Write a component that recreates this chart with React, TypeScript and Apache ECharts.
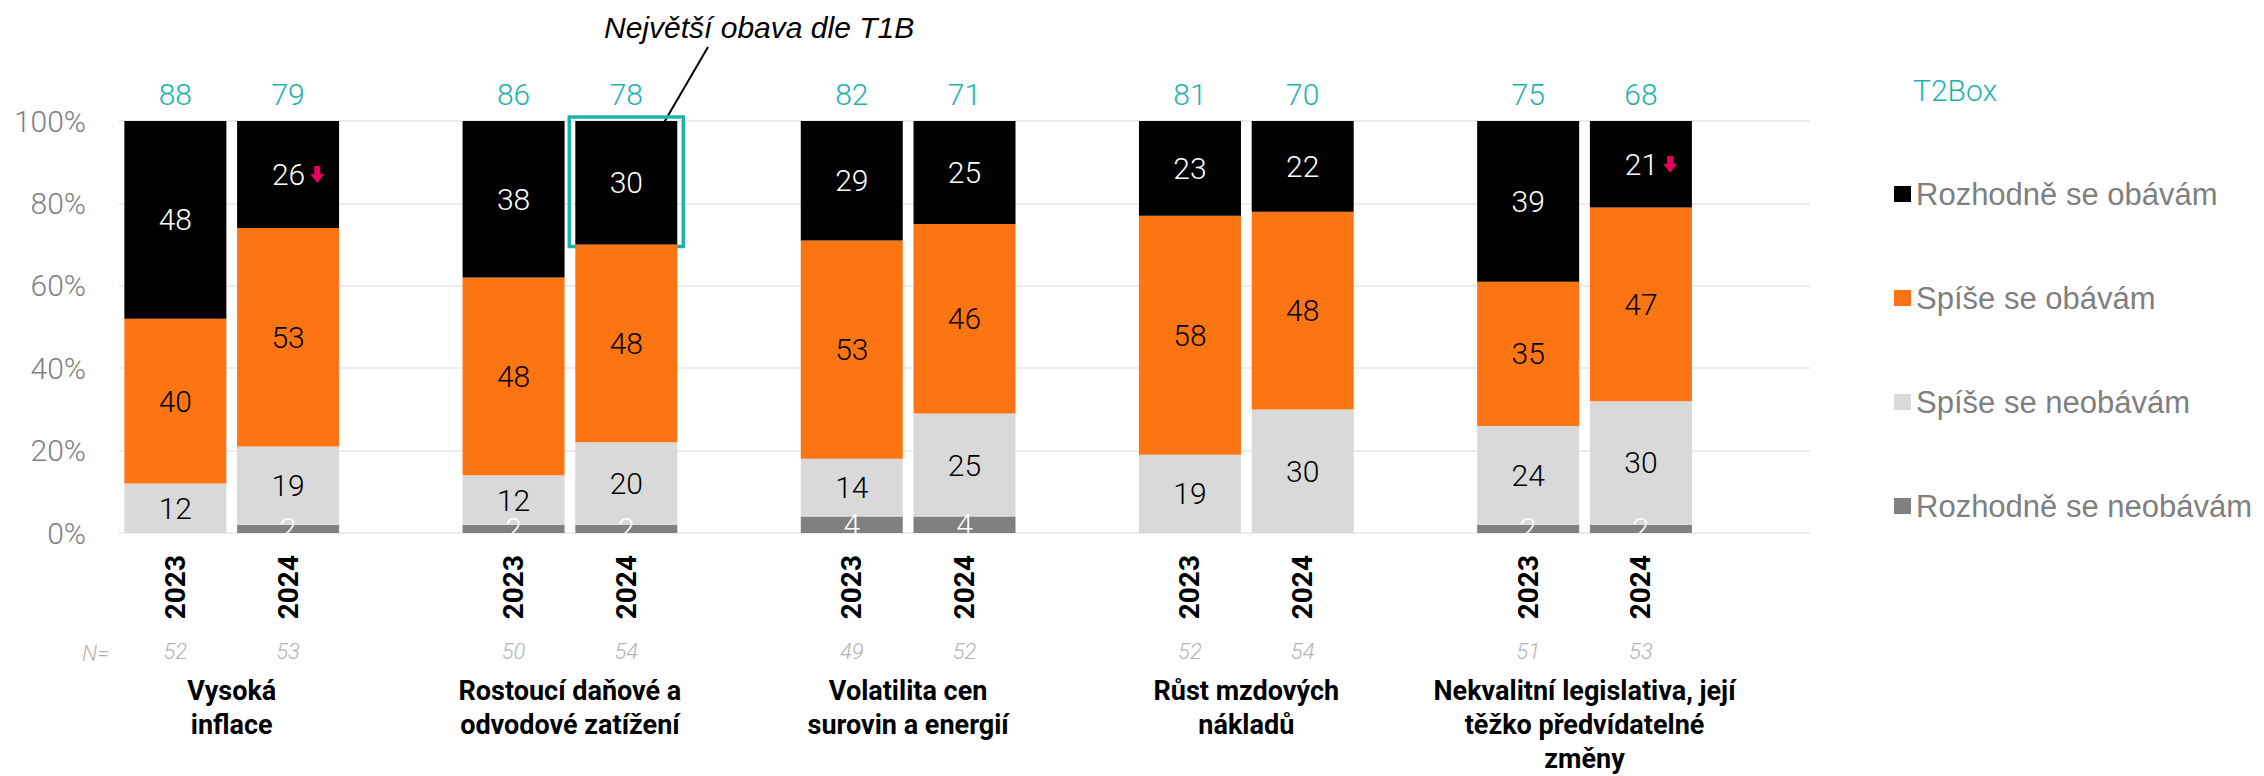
import React, { useEffect, useRef } from "react";
import * as echarts from "echarts";

// ---------- data ----------
const groupNames = [
  "Vysoká\ninflace",
  "Rostoucí daňové a\nodvodové zatížení",
  "Volatilita cen\nsurovin a energií",
  "Růst mzdových\nnákladů",
  "Nekvalitní legislativa, její\ntěžko předvídatelné\nzměny",
];
const yearLabels = ["2023", "2024"];
const seriesNames = [
  "Rozhodně se obávám",
  "Spíše se obávám",
  "Spíše se neobávám",
  "Rozhodně se neobávám",
];
const strongConcern2023 = [48, 38, 29, 23, 39];
const strongConcern2024 = [26, 30, 25, 22, 21];
const ratherConcern2023 = [40, 48, 53, 58, 35];
const ratherConcern2024 = [53, 48, 46, 48, 47];
const ratherNoConcern2023 = [12, 12, 14, 19, 24];
const ratherNoConcern2024 = [19, 20, 25, 30, 30];
const noConcern2023 = [0, 2, 4, 0, 2];
const noConcern2024 = [2, 2, 4, 0, 2];
const t2box2023 = [88, 86, 82, 81, 75];
const t2box2024 = [79, 78, 71, 70, 68];
const n2023 = [52, 50, 49, 52, 51];
const n2024 = [53, 54, 52, 54, 53];
const drop2024 = [true, false, false, false, true];
const highlightGroup = 1;
const highlightYear = 1;
const annotationText = "Největší obava dle T1B";
const legendTitle = "T2Box";

// ---------- styles ----------
const TEAL = "#1fb2ac";
const COLORS = ["#000000", "#fd7512", "#d9d9d9", "#808080"];
const LABEL_COLORS = ["#ffffff", "#000000", "#000000", "#ffffff"];
const NUM_FONT = "Roboto";

const arrowSvg =
  "<svg xmlns='http://www.w3.org/2000/svg' width='14' height='17' viewBox='0 0 14 17'><path d='M4 0h6v8h4l-7 9l-7-9h4z' fill='#e8005c'/></svg>";
const arrowUrl = "data:image/svg+xml;charset=utf-8," + encodeURIComponent(arrowSvg);

function toSlots<T>(a: T[], b: T[], empty: any) {
  return groupNames.flatMap((_, i) => [a[i], b[i], empty]);
}

export default function App() {
  const ref = useRef<HTMLDivElement>(null);

  useEffect(() => {
    if (!ref.current) return;
    const chart = echarts.init(ref.current, null, { renderer: "svg" });

    const slotCats = groupNames.flatMap(() => [...yearLabels, ""]);
    const groupAxis = Array.from({ length: groupNames.length * 6 + 1 }, (_, k) =>
      k % 6 === 2 ? groupNames[(k - 2) / 6] : ""
    );
    const nAxis = toSlots(n2023.map(String), n2024.map(String), "");
    const t2bAxis = toSlots(t2box2023.map(String), t2box2024.map(String), "");
    const dropSlots = toSlots(drop2024.map(() => false), drop2024, false);

    const seriesData = [
      toSlots(strongConcern2023, strongConcern2024, null),
      toSlots(ratherConcern2023, ratherConcern2024, null),
      toSlots(ratherNoConcern2023, ratherNoConcern2024, null),
      toSlots(noConcern2023, noConcern2024, null),
    ];

    const labelFont = { fontFamily: NUM_FONT, fontSize: 30, fontWeight: 300 };

    const series: any[] = [];
    for (let s = 3; s >= 0; s--) {
      const data = seriesData[s].map((v, i) => {
        if (v === null) return null;
        if (s === 0 && dropSlots[i]) {
          return { value: v, label: { offset: [10, 0] } };
        }
        return v;
      });
      series.push({
        name: seriesNames[s],
        type: "bar",
        stack: "total",
        barWidth: 102,
        data,
        itemStyle: { color: COLORS[s] },
        label: {
          show: true,
          position: "inside",
          color: LABEL_COLORS[s],
          ...labelFont,
          formatter: (p: any) => {
            const v = p.value;
            if (v === null || v === undefined || v === 0) return "";
            if (s === 0 && dropSlots[p.dataIndex]) return `{num|${v}}{gap|}{arr|}`;
            return String(v);
          },
          rich: {
            num: { color: LABEL_COLORS[s], ...labelFont },
            gap: { width: 5 },
            arr: {
              width: 14,
              height: 17,
              verticalAlign: "middle",
              backgroundColor: { image: arrowUrl },
            },
          },
        },
      });
    }

    const option: any = {
      animation: false,
      backgroundColor: "#ffffff",
      grid: {
        left: 119,
        right: 454,
        top: 121,
        bottom: 243,
        containLabel: false,
        outerBoundsMode: "none",
      },
      legend: {
        data: seriesNames,
        orient: "vertical",
        left: 1889,
        top: 172,
        itemWidth: 17,
        itemHeight: 16,
        itemGap: 70,
        icon: "rect",
        selectedMode: false,
        textStyle: {
          fontFamily: "Liberation Sans",
          fontSize: 31,
          color: "#7f7f7f",
          lineHeight: 34,
        },
      },
      xAxis: [
        {
          type: "category",
          data: slotCats,
          position: "bottom",
          axisLine: { show: false },
          axisTick: { show: false },
          axisLabel: {
            interval: 0,
            rotate: 90,
            margin: 22,
            fontFamily: NUM_FONT,
            fontWeight: "bold",
            fontSize: 28,
            color: "#000000",
          },
        },
        {
          type: "category",
          data: groupAxis,
          position: "bottom",
          boundaryGap: false,
          axisLine: { show: false },
          axisTick: { show: false },
          axisLabel: {
            interval: 0,
            margin: 141,
            fontFamily: NUM_FONT,
            fontWeight: "bold",
            fontSize: 27,
            lineHeight: 34,
            color: "#000000",
            align: "center",
          },
        },
        {
          type: "category",
          data: nAxis,
          position: "bottom",
          axisLine: { show: false },
          axisTick: { show: false },
          axisLabel: {
            interval: 0,
            margin: 107,
            fontFamily: NUM_FONT,
            fontStyle: "italic",
            fontWeight: 300,
            fontSize: 22,
            color: "#b3b3b3",
          },
        },
        {
          type: "category",
          data: t2bAxis,
          position: "top",
          axisLine: { show: false },
          axisTick: { show: false },
          axisLabel: {
            interval: 0,
            margin: 12,
            fontFamily: NUM_FONT,
            fontWeight: 300,
            fontSize: 30,
            color: TEAL,
          },
        },
      ],
      yAxis: {
        type: "value",
        min: 0,
        max: 100,
        interval: 20,
        axisLine: { show: false },
        axisTick: { show: false },
        splitLine: { show: true, lineStyle: { color: "#ebebf0", width: 2 } },
        axisLabel: {
          formatter: "{value}%",
          margin: 33,
          fontFamily: NUM_FONT,
          fontWeight: 300,
          fontSize: 30,
          color: "#808080",
        },
      },
      series,
    };

    chart.setOption(option);

    const slot = highlightGroup * 3 + highlightYear;
    const pTop = chart.convertToPixel({ xAxisIndex: 0, yAxisIndex: 0 }, [slot, 100]) as number[];
    const pBot = chart.convertToPixel(
      { xAxisIndex: 0, yAxisIndex: 0 },
      [slot, 100 - strongConcern2024[highlightGroup]]
    ) as number[];

    chart.setOption({
      graphic: [
        {
          type: "text",
          left: 82,
          top: 642,
          style: {
            text: "N=",
            fontFamily: NUM_FONT,
            fontStyle: "italic",
            fontWeight: 300,
            fontSize: 22,
            fill: "#b3b3b3",
          },
        },
        {
          type: "text",
          left: 1913,
          top: 75,
          style: {
            text: legendTitle,
            fontFamily: NUM_FONT,
            fontWeight: 300,
            fontSize: 30,
            fill: TEAL,
          },
        },
        {
          type: "text",
          left: 604,
          top: 12,
          style: {
            text: annotationText,
            fontFamily: "Liberation Sans",
            fontStyle: "italic",
            fontSize: 30,
            fill: "#000000",
          },
        },
        {
          type: "line",
          shape: { x1: 708, y1: 47, x2: pTop[0] + 38, y2: pTop[1] + 1 },
          style: { stroke: "#000000", lineWidth: 2 },
        },
        {
          type: "rect",
          shape: {
            x: pTop[0] - 57,
            y: pTop[1] - 4,
            width: 114,
            height: pBot[1] - pTop[1] + 6,
          },
          style: { fill: "none", stroke: TEAL, lineWidth: 3.5 },
        },
      ],
    });

    return () => chart.dispose();
  }, []);

  return (
    <div
      ref={ref}
      style={{ position: "absolute", left: 0, top: 0, width: 2264, height: 776 }}
    />
  );
}
